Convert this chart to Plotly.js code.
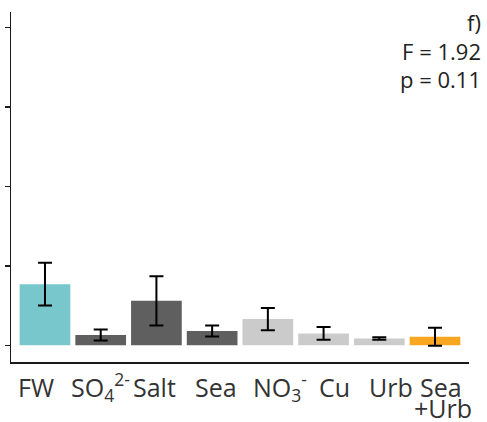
<!DOCTYPE html>
<html>
<head>
<meta charset="utf-8">
<script src="https://cdn.plot.ly/plotly-3.0.1.min.js"></script>
<style>html,body{margin:0;padding:0;background:#fff;}#chart{width:487px;height:422px;}</style>
</head>
<body>
<div id="chart"></div>
<script>
var categories = ["FW", "SO4", "Salt", "Sea", "NO3", "Cu", "Urb", "Sea+Urb"];
var tickLabels = ["FW", "SO<sub>4</sub><sup>2-</sup>", "Salt", "Sea", "NO<sub>3</sub><sup>-</sup>", "Cu", "Urb", "Sea"];
var tickLabelSecondLine = ["", "", "", "", "", "", "", "+Urb"];
var means = [0.77, 0.13, 0.56, 0.18, 0.33, 0.15, 0.086, 0.107];
var errors = [0.27, 0.07, 0.31, 0.07, 0.14, 0.08, 0.015, 0.113];
var barColors = ["#78c7cc", "#5f5f5f", "#5f5f5f", "#5f5f5f", "#cbcbcb", "#cbcbcb", "#cbcbcb", "#f9a620"];
var statLines = ["f)", "F = 1.92", "p = 0.11"];

// label placement offsets (px) as in the original figure
var labelShift = [-9, 0, -2, 3.5, 12, 10.5, 12, 6];
var secondLineShift = [0, 0, 0, 0, 0, 0, 0, 8];

var idx = categories.map(function(c, i){ return i; });
var trace = {
  type: "bar",
  x: idx,
  y: means,
  width: 0.91,
  marker: {color: barColors, line: {width: 0}},
  error_y: {type: "data", array: errors, visible: true, color: "#000", thickness: 2, width: 7},
  hoverinfo: "none"
};

var fontFam = "Open Sans, sans-serif";
var annotations = [{
  text: statLines.join("<br>"), xref: "paper", yref: "paper",
  x: 1.03, xanchor: "right", align: "right",
  y: 0.89, yanchor: "middle",
  showarrow: false,
  font: {family: fontFam, size: 22, color: "#222"}
}];
tickLabels.forEach(function(t, i){
  annotations.push({
    text: t, xref: "x", yref: "paper",
    x: i, xanchor: "center", xshift: labelShift[i],
    y: -0.0714, yanchor: "middle",
    showarrow: false,
    font: {family: fontFam, size: 25, color: "#333"}
  });
});
tickLabelSecondLine.forEach(function(t, i){
  if (!t) return;
  annotations.push({
    text: t, xref: "x", yref: "paper",
    x: i, xanchor: "center", xshift: secondLineShift[i],
    y: -0.132, yanchor: "middle",
    showarrow: false,
    font: {family: fontFam, size: 25, color: "#333"}
  });
});

var layout = {
  width: 487, height: 422,
  margin: {l: 10.5, r: 18, t: 12, b: 60, pad: 0},
  paper_bgcolor: "#fff", plot_bgcolor: "#fff",
  showlegend: false,
  xaxis: {
    range: [-0.61, 7.61],
    tickmode: "array",
    tickvals: idx,
    ticks: "",
    showticklabels: false,
    showgrid: false, zeroline: false,
    showline: true, linecolor: "#1a1a1a", linewidth: 1.5,
    fixedrange: true
  },
  yaxis: {
    range: [-0.21, 4.195],
    tickmode: "array",
    tickvals: [0, 1, 2, 3, 4],
    ticks: "outside", ticklen: 5, tickwidth: 1.5, tickcolor: "#1a1a1a",
    showticklabels: false,
    showgrid: false, zeroline: false,
    showline: true, linecolor: "#1a1a1a", linewidth: 1.5,
    fixedrange: true
  },
  annotations: annotations
};

Plotly.newPlot("chart", [trace], layout, {displayModeBar: false, staticPlot: true});
</script>
</body>
</html>
